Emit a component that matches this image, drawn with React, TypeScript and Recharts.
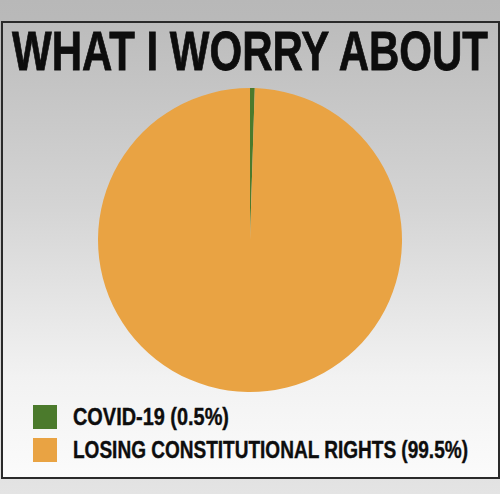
import React from 'react'
import { PieChart, Pie, Cell, Legend } from 'recharts'

const categories = ['COVID-19', 'LOSING CONSTITUTIONAL RIGHTS']
const shares = [0.5, 99.5]
const colors = ['#4b7a2c', '#e9a343']
const labelWidths = [156, 395]

const data = categories.map((name, i) => ({ name, value: shares[i], color: colors[i] }))

const FONT = '"Liberation Sans", Arial, sans-serif'

const CustomLegend = () => (
  <svg width={480} height={62} style={{ display: 'block' }}>
    {data.map((entry, index) => (
      <g key={index} transform={`translate(0, ${index * 33})`}>
        <rect x={0} y={0} width={24} height={24} fill={entry.color} />
        <text
          x={40}
          y={20}
          textLength={labelWidths[index]}
          lengthAdjust="spacingAndGlyphs"
          fontFamily={FONT}
          fontWeight={700}
          fontSize={24}
          fill="#0d0d0d"
          stroke="#0d0d0d"
          strokeWidth={0.4}
        >
          {entry.name} ({entry.value}%)
        </text>
      </g>
    ))}
  </svg>
)

const App = () => {
  return (
    <div
      style={{
        position: 'absolute',
        left: 0,
        top: 0,
        width: 500,
        height: 494,
        background: 'linear-gradient(#b8b8b8, #c4c4c4 40%, #e4e4e4)',
        overflow: 'hidden',
      }}
    >
      <div
        style={{
          position: 'absolute',
          left: 1,
          top: 21,
          width: 495,
          height: 454,
          border: '2px solid #2a2a2a',
          background: 'linear-gradient(#bcbcbc, #d4d4d4 40%, #f2f2f2 78%, #fbfbfb)',
        }}
      />
      <svg width={500} height={80} style={{ position: 'absolute', left: 0, top: 0 }}>
        <text
          x={12}
          y={70}
          textLength={476}
          lengthAdjust="spacingAndGlyphs"
          fontFamily={FONT}
          fontWeight={700}
          fontSize={55}
          fill="#0d0d0d"
          stroke="#0d0d0d"
          strokeWidth={0.8}
        >
          WHAT I WORRY ABOUT
        </text>
      </svg>
      <div style={{ position: 'absolute', left: 0, top: 0 }}>
        <PieChart width={500} height={494} margin={{ top: 0, right: 0, bottom: 0, left: 0 }}>
          <Pie
            data={data}
            dataKey="value"
            nameKey="name"
            cx={250}
            cy={240}
            innerRadius={0}
            outerRadius={152}
            startAngle={90}
            endAngle={-270}
            stroke="none"
            isAnimationActive={false}
          >
            {data.map((entry, index) => (
              <Cell key={`cell-${index}`} fill={entry.color} />
            ))}
          </Pie>
          <Legend
            layout="horizontal"
            verticalAlign="bottom"
            align="left"
            wrapperStyle={{ left: 33, bottom: 27, width: 480 }}
            content={<CustomLegend />}
          />
        </PieChart>
      </div>
    </div>
  )
}

export default App
